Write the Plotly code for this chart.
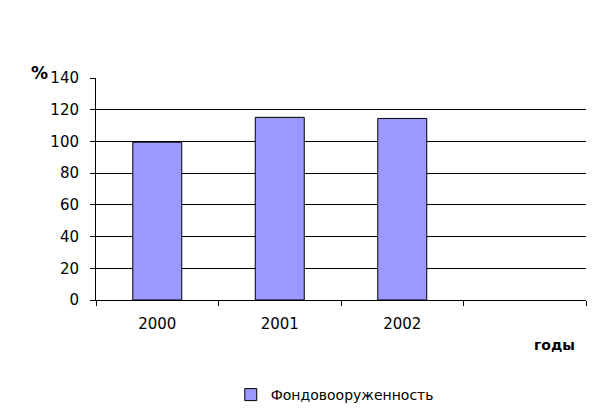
import plotly.graph_objects as go

years = ["2000", "2001", "2002", " "]
values = [99.5, 115.2, 114.5, None]
series_name = "Фондовооруженность"

# page body has an 8px default margin; compensate so the plot area lands at x 96..586, y 78..300
W, H = 595, 411
fig = go.Figure()
fig.add_trace(go.Bar(
    x=years, y=values, name=series_name,
    marker=dict(color="#9999FF", line=dict(color="black", width=1)),
    showlegend=True,
))

fig.update_layout(
    width=W, height=H,
    margin=dict(l=88, r=17, t=70, b=119, autoexpand=False),
    paper_bgcolor="white", plot_bgcolor="white",
    font=dict(family="DejaVu Sans", size=14, color="black"),
    bargap=0.6,
    showlegend=True,
    legend=dict(orientation="h", x=0.275, xanchor="left", y=-0.428, yanchor="middle",
                font=dict(size=14), itemwidth=30),
    xaxis=dict(type="category", showline=True, linecolor="black", linewidth=1,
               ticks="outside", tickson="boundaries", ticklen=5, tickcolor="black",
               showgrid=False, tickfont=dict(size=15), ticklabelstandoff=10),
    yaxis=dict(range=[0, 140], dtick=20, showline=True, linecolor="black", linewidth=1,
               ticks="outside", ticklen=5, tickcolor="black",
               showgrid=True, gridcolor="black", gridwidth=1, zeroline=False,
               tickfont=dict(size=15), ticklabelstandoff=8),
    annotations=[
        dict(text="<b>%</b>", x=-0.093, xanchor="right", y=1.075, xref="paper", yref="paper",
             showarrow=False, font=dict(size=17, family="DejaVu Sans")),
        dict(text="<b>годы</b>", x=0.982, y=-0.248, xref="paper", yref="paper", showarrow=False,
             font=dict(size=14, family="DejaVu Sans")),
    ],
)

fig.write_html("out.html")
